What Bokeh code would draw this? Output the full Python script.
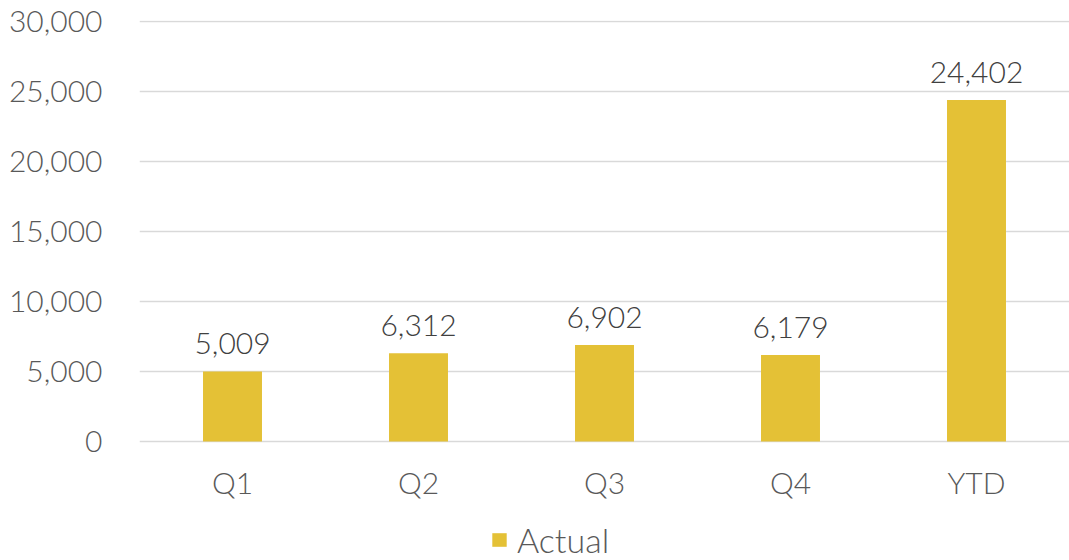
from bokeh.plotting import figure
from bokeh.models import ColumnDataSource, NumeralTickFormatter, Legend, LegendItem, Range1d
from bokeh.embed import file_html
from bokeh.resources import INLINE
from bokeh.core.properties import value

categories = ["Q1", "Q2", "Q3", "Q4", "YTD"]
actual = [5009, 6312, 6902, 6179, 24402]
y_ticks = [0, 5000, 10000, 15000, 20000, 25000, 30000]

labels = [f"{v:,}" for v in actual]
src = ColumnDataSource(dict(cat=categories, val=actual, lab=labels))

FONT = "Lato Light"
AXIS_COLOR = "#595959"
BAR_COLOR = "#E4C136"

# frame runs down to the window bottom; the category axis sits at y = 0 inside it
p = figure(x_range=categories, y_range=Range1d(-8500, 30072),
           frame_width=930, frame_height=540,
           output_backend="svg", toolbar_location=None,
           min_border_left=139, min_border_right=0, min_border_top=20, min_border_bottom=0)
p.outline_line_color = None

r = p.vbar(x="cat", top="val", width=0.317, source=src, fill_color=BAR_COLOR, line_color=None)

p.text(x="cat", y="val", text="lab", source=src, y_offset=-17,
       text_align="center", text_baseline="bottom",
       text_font=value(FONT), text_font_size="30px", text_color="#404040")

p.yaxis.ticker = y_ticks
p.yaxis.formatter = NumeralTickFormatter(format="0,0")
for ax in (p.xaxis[0], p.yaxis[0]):
    ax.axis_line_color = None
    ax.major_tick_line_color = None
    ax.minor_tick_line_color = None
    ax.major_label_text_font = FONT
    ax.major_label_text_font_size = "30px"
    ax.major_label_text_color = AXIS_COLOR
p.yaxis.major_label_standoff = 31
p.xaxis.major_label_standoff = 16
p.xaxis.fixed_location = 0

p.xgrid.grid_line_color = None
p.ygrid.grid_line_color = "#D9D9D9"
p.ygrid.grid_line_width = 1.5

legend = Legend(items=[LegendItem(label="Actual", renderers=[r])], orientation="horizontal",
                location=(351, 0), border_line_color=None, background_fill_alpha=0,
                label_text_font=FONT, label_text_font_size="34px", label_text_color=AXIS_COLOR,
                glyph_width=18, glyph_height=17, label_standoff=9, padding=0, margin=0)
p.add_layout(legend, "center")

open("out.html", "w").write(file_html(p, INLINE))
